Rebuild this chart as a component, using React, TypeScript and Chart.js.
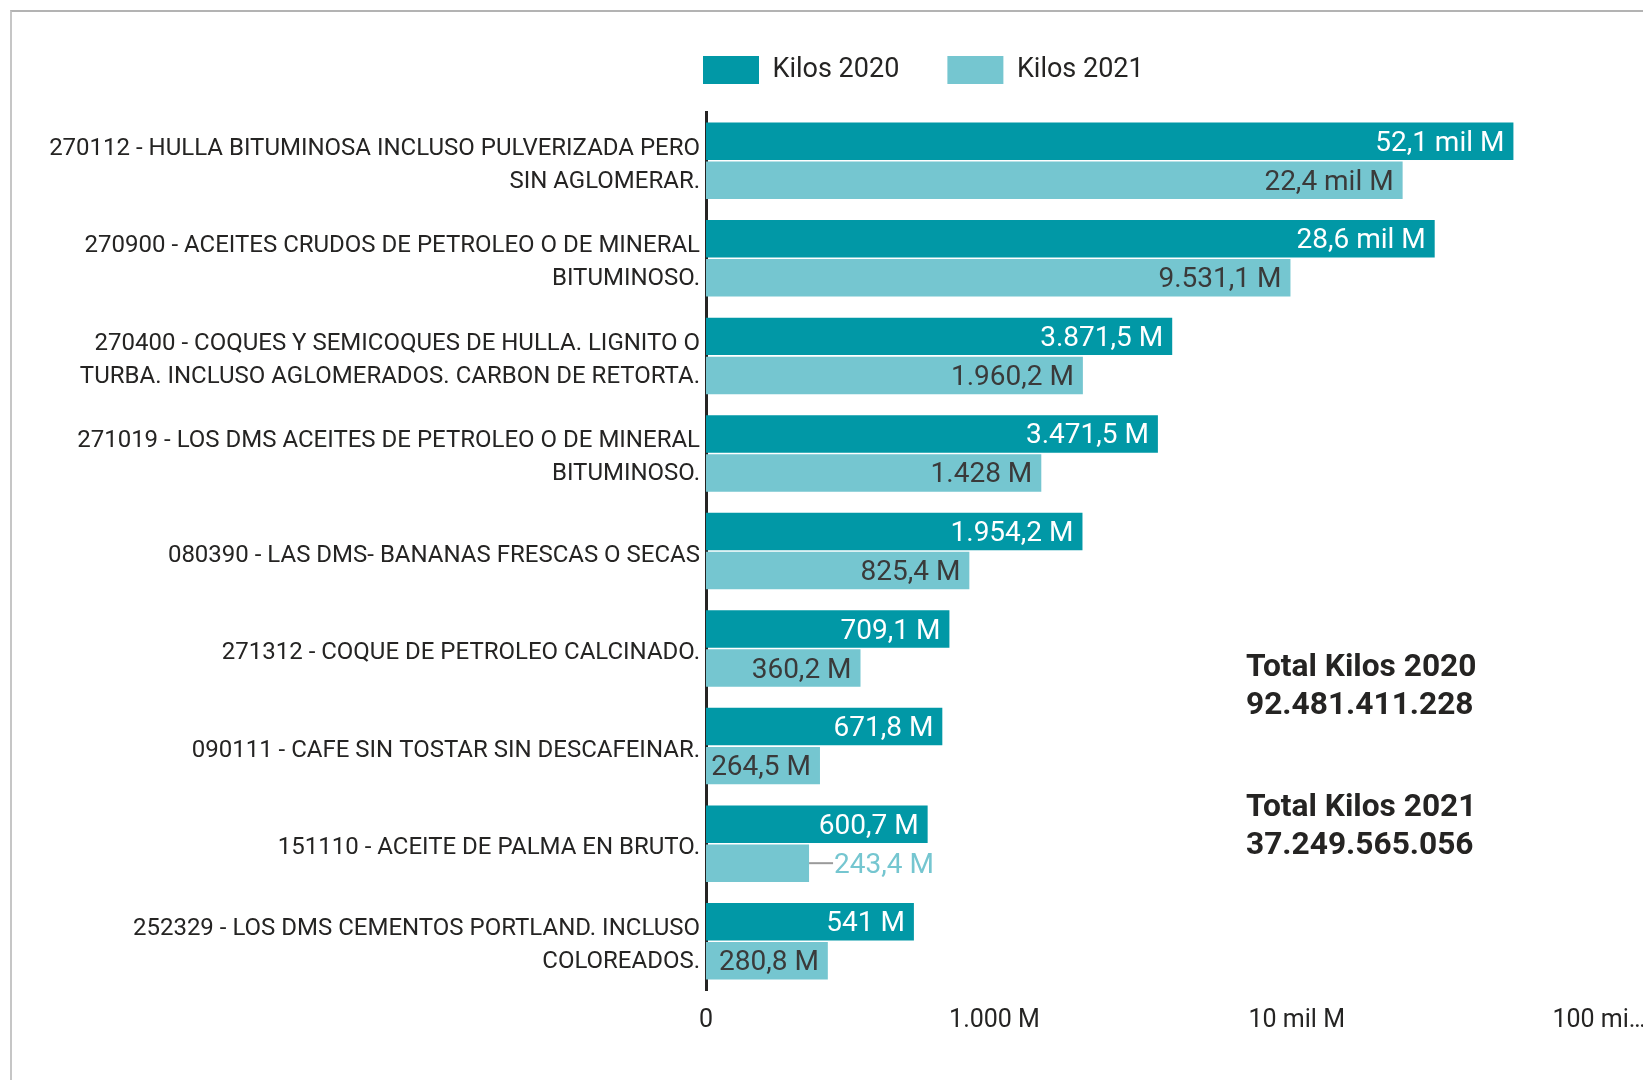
import React, { useEffect, useRef } from 'react';
import { Chart, registerables } from 'chart.js';

Chart.register(...registerables);

const FONT = "Roboto, 'Noto Sans', 'DejaVu Sans', sans-serif";

const CATEGORIES: (string | string[])[] = [
  ['270112 - HULLA BITUMINOSA INCLUSO PULVERIZADA PERO', 'SIN AGLOMERAR.'],
  ['270900 - ACEITES CRUDOS DE PETROLEO O DE MINERAL', 'BITUMINOSO.'],
  ['270400 - COQUES Y SEMICOQUES DE HULLA. LIGNITO O', 'TURBA. INCLUSO AGLOMERADOS. CARBON DE RETORTA.'],
  ['271019 - LOS DMS ACEITES DE PETROLEO O DE MINERAL', 'BITUMINOSO.'],
  '080390 - LAS DMS- BANANAS FRESCAS O SECAS',
  '271312 - COQUE DE PETROLEO CALCINADO.',
  '090111 - CAFE SIN TOSTAR SIN DESCAFEINAR.',
  '151110 - ACEITE DE PALMA EN BRUTO.',
  ['252329 - LOS DMS CEMENTOS PORTLAND. INCLUSO', 'COLOREADOS.'],
];

// values in millions of kilos (M)
const KILOS_2020 = [52100, 28600, 3871.5, 3471.5, 1954.2, 709.1, 671.8, 600.7, 541];
const KILOS_2021 = [22400, 9531.1, 1960.2, 1428, 825.4, 360.2, 264.5, 243.4, 280.8];
const SERIES_NAMES = ['Kilos 2020', 'Kilos 2021'];

const X_TICK_VALUES = [111, 1000, 10000, 100000];
const X_TICK_LABELS = ['0', '1.000 M', '10 mil M', '100 mi…'];

const TOTAL_TITLES = ['Total Kilos 2020', 'Total Kilos 2021'];
const TOTAL_VALUES = ['92.481.411.228', '37.249.565.056'];

const COLOR_2020 = '#0198A6';
const COLOR_2021 = '#75C6D0';
const TEXT_COLOR = '#252423';
const INSIDE_LABEL_COLORS = ['#FFFFFF', '#3A3A3A'];

function fmt(v: number): string {
  if (v >= 10000) return (v / 1000).toFixed(1).replace('.', ',') + ' mil M';
  const [ip, dp] = (Math.round(v * 10) / 10).toString().split('.');
  const ipS = ip.replace(/\B(?=(\d{3})+(?!\d))/g, '.');
  return ipS + (dp ? ',' + dp : '') + ' M';
}

const valueLabelPlugin = {
  id: 'valueLabels',
  afterDatasetsDraw(chart: any) {
    const ctx = chart.ctx;
    ctx.save();
    ctx.font = `28px ${FONT}`;
    ctx.textBaseline = 'middle';
    chart.data.datasets.forEach((ds: any, di: number) => {
      const meta = chart.getDatasetMeta(di);
      meta.data.forEach((bar: any, i: number) => {
        const text = fmt(ds.data[i]);
        const { x, y, base } = bar.getProps(['x', 'y', 'base'], true);
        const tw = ctx.measureText(text).width;
        const barW = x - base;
        if (barW - tw - 9 >= 5) {
          ctx.fillStyle = INSIDE_LABEL_COLORS[di];
          ctx.textAlign = 'right';
          ctx.fillText(text, x - 9, y + 2.5);
        } else {
          ctx.strokeStyle = '#9a9a9a';
          ctx.lineWidth = 2;
          ctx.beginPath();
          ctx.moveTo(x, y);
          ctx.lineTo(x + 24, y);
          ctx.stroke();
          ctx.fillStyle = ds.backgroundColor;
          ctx.textAlign = 'left';
          ctx.fillText(text, x + 25, y + 2.5);
        }
      });
    });
    ctx.restore();
  },
};

const totalsPlugin = {
  id: 'totals',
  afterDraw(chart: any) {
    const ctx = chart.ctx;
    ctx.save();
    ctx.font = `bold 31.7px ${FONT}`;
    ctx.fillStyle = TEXT_COLOR;
    ctx.textAlign = 'left';
    ctx.textBaseline = 'alphabetic';
    const x = 1246;
    const blocks = [676, 816];
    TOTAL_TITLES.forEach((t, i) => {
      ctx.fillText(t, x, blocks[i]);
      ctx.fillText(TOTAL_VALUES[i], x, blocks[i] + 38);
    });
    ctx.restore();
  },
};

const legendShiftPlugin = {
  id: 'legendShift',
  afterLayout(chart: any) {
    const lg = chart.legend;
    if (!lg) return;
    const pad = lg.options.labels.padding;
    const w = lg.right - lg.left;
    const h = lg.bottom - lg.top;
    lg.left = chart.chartArea.left - 3 - pad;
    lg.right = lg.left + w;
    lg.top = 56 - pad;
    lg.bottom = lg.top + h;
  },
};

export default function App() {
  const ref = useRef<HTMLCanvasElement>(null);

  useEffect(() => {
    const canvas = ref.current;
    if (!canvas) return;
    const chart = new Chart(canvas, {
      type: 'bar',
      data: {
        labels: CATEGORIES,
        datasets: [
          {
            label: SERIES_NAMES[0],
            data: KILOS_2020,
            backgroundColor: COLOR_2020,
            borderWidth: 0,
            categoryPercentage: 0.8,
            barPercentage: 0.96,
          },
          {
            label: SERIES_NAMES[1],
            data: KILOS_2021,
            backgroundColor: COLOR_2021,
            borderWidth: 0,
            categoryPercentage: 0.8,
            barPercentage: 0.96,
          },
        ],
      },
      options: {
        indexAxis: 'y',
        responsive: false,
        animation: false,
        devicePixelRatio: 1,
        events: [],
        layout: { padding: { top: 46, right: 44, left: 0, bottom: 0 } },
        plugins: {
          tooltip: { enabled: false },
          legend: {
            display: true,
            position: 'top',
            align: 'start',
            labels: {
              boxWidth: 56,
              boxHeight: 28,
              padding: 28,
              color: TEXT_COLOR,
              font: { family: FONT, size: 27 },
              generateLabels: (c: any) =>
                Chart.defaults.plugins.legend.labels
                  .generateLabels(c)
                  .map((l: any, i: number, arr: any[]) => ({
                    ...l,
                    text: i < arr.length - 1 ? l.text + '\u00a0\u00a0\u00a0' : l.text,
                  })),
            },
          },
        },
        scales: {
          x: {
            type: 'logarithmic',
            min: X_TICK_VALUES[0],
            max: X_TICK_VALUES[X_TICK_VALUES.length - 1],
            bounds: 'data',
            grid: { display: false, drawTicks: false },
            border: { display: false },
            ticks: {
              autoSkip: false,
              maxRotation: 0,
              minRotation: 0,
              padding: 16,
              color: TEXT_COLOR,
              font: { family: FONT, size: 25 },
              callback: (_v: any, i: number) => X_TICK_LABELS[i],
            },
            afterBuildTicks: (s: any) => {
              s.ticks = X_TICK_VALUES.map((v) => ({ value: v }));
            },
            afterFit: (s: any) => {
              s.height = 90;
              s.paddingLeft = 0;
              s.paddingRight = 0;
            },
          },
          y: {
            type: 'category',
            grid: { display: false, drawTicks: false },
            border: { display: true, color: '#252423', width: 3 },
            ticks: {
              autoSkip: false,
              padding: 6,
              labelOffset: 4.5,
              color: TEXT_COLOR,
              font: { family: FONT, size: 24, lineHeight: 1.375 },
            },
            afterFit: (s: any) => {
              s.width = 706;
            },
          },
        },
      } as any,
      plugins: [valueLabelPlugin, totalsPlugin, legendShiftPlugin],
    });
    return () => chart.destroy();
  }, []);

  return (
    <div
      style={{
        position: 'fixed',
        left: 0,
        top: 0,
        width: 1643,
        height: 1080,
        overflow: 'hidden',
        background: '#ffffff',
      }}
    >
      <div
        style={{
          position: 'absolute',
          left: 10,
          top: 10,
          right: 0,
          bottom: 0,
          borderTop: '2px solid #b3b3b3',
          borderLeft: '2px solid #c6c6c6',
        }}
      />
      <canvas
        ref={ref}
        width={1643}
        height={1080}
        style={{ position: 'absolute', left: 0, top: 0, width: 1643, height: 1080 }}
      />
    </div>
  );
}
